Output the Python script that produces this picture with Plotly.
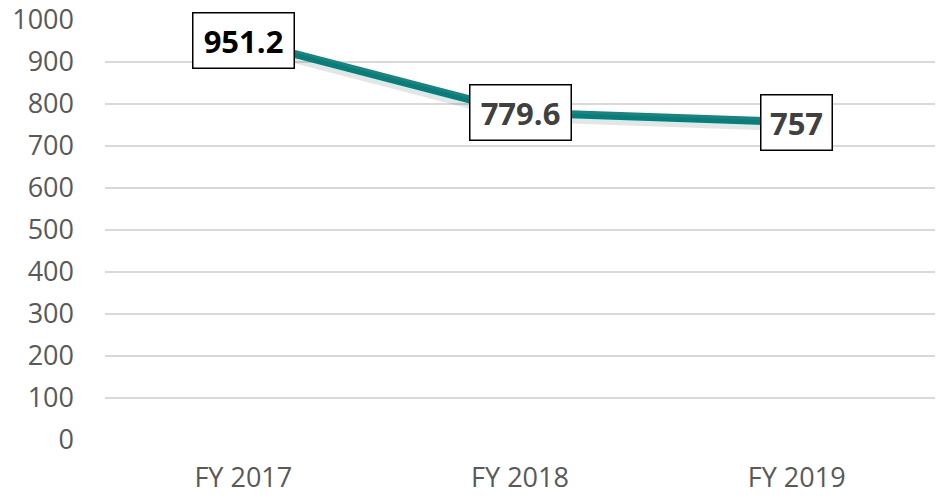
import plotly.graph_objects as go

categories = ["FY 2017", "FY 2018", "FY 2019"]
values = [951.2, 779.6, 757]
value_labels = ["951.2", "779.6", "757"]
label_colors = ["#000000", "#404040", "#404040"]
y_ticks = [0, 100, 200, 300, 400, 500, 600, 700, 800, 900, 1000]

FONT = "Open Sans"
TEAL = "#0f8986"
LABEL_BOX_WIDTHS = [88, 88, 58]

fig = go.Figure()

# soft shadow under the line (same data drawn on a slightly shifted overlay axis)
fig.add_trace(go.Scatter(
    x=categories, y=values, mode="lines", yaxis="y2",
    line=dict(color="rgba(0,0,0,0.10)", width=10),
    hoverinfo="skip", showlegend=False,
))
fig.add_trace(go.Scatter(
    x=categories, y=values, mode="lines",
    line=dict(color=TEAL, width=8),
    showlegend=False,
))

for c, v, t, col, w in zip(categories, values, value_labels, label_colors, LABEL_BOX_WIDTHS):
    fig.add_annotation(
        x=c, y=v, xref="x", yref="y", text="<b>%s</b>" % t, showarrow=False,
        font=dict(family=FONT, size=31, color=col), width=w,
        bgcolor="white", bordercolor="#000000", borderwidth=1.5, borderpad=6,
        xanchor="center", yanchor="middle",
    )

fig.update_layout(
    width=937, height=496,
    margin=dict(l=105, r=2, t=20, b=56, autoexpand=False),
    paper_bgcolor="white", plot_bgcolor="white",
    font=dict(family=FONT, size=27, color="#595959"),
    xaxis=dict(
        type="category", showgrid=False, zeroline=False, showline=False,
        ticks="", tickfont=dict(family=FONT, size=27, color="#595959"),
        range=[-0.5, 2.5], automargin=False, ticklabelstandoff=19,
    ),
    yaxis=dict(
        range=[0, 1000], tickvals=y_ticks, ticktext=[str(v) for v in y_ticks],
        showgrid=True, gridcolor="#d9d9d9", gridwidth=1.5, zeroline=False,
        showline=False, ticks="", ticklabelstandoff=30, automargin=False,
        tickfont=dict(family=FONT, size=27, color="#595959"),
    ),
    yaxis2=dict(
        overlaying="y", range=[10, 1010], visible=False,
    ),
)

fig.write_html(
    "out.html",
    config={"displayModeBar": False},
    post_script="document.body.style.margin='0';document.body.style.overflow='hidden';",
)
